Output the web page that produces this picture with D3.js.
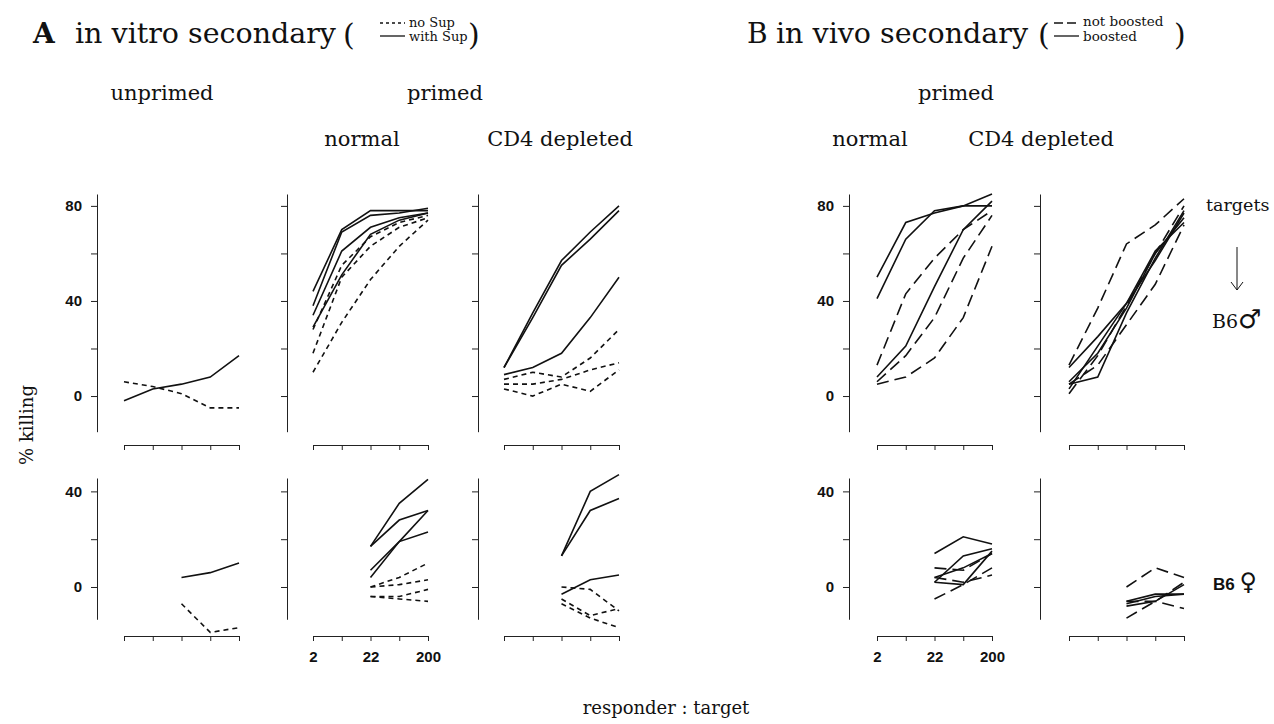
<!DOCTYPE html>
<html>
<head>
<meta charset="utf-8">
<script src="https://cdn.jsdelivr.net/npm/d3@7"></script>
<style>
  body { margin: 0; background: #fff; }
  .serif { font-family: "DejaVu Serif", serif; fill: #111; }
  .axis path, .axis line { stroke: #222; stroke-width: 1; }
  .axis text { font-family: "Liberation Sans", Arial, sans-serif; font-weight: bold; font-size: 15px; fill: #111; }
</style>
</head>
<body>
<script>
// responder : target ratios (x categories) and tick labels
var ratios = ["2", "7", "22", "67", "200"];
var labelledRatios = ["2", "22", "200"];
var ticksTop = [0, 20, 40, 60, 80];
var ticksBottom = [0, 20, 40];
var labelledTicks = [0, 40, 80];

// A in vitro secondary, B6 male targets (% killing)
var vitroUnprimedMaleSup = [[-2, 3, 5, 8, 17]];
var vitroUnprimedMaleNoSup = [[6, 4, 1, -5, -5]];
var vitroNormalMaleSup = [
  [44, 70, 78, 78, 78],
  [38, 69, 76, 77, 79],
  [34, 61, 71, 75, 77],
  [29, 51, 68, 74, 77]
];
var vitroNormalMaleNoSup = [
  [28, 55, 67, 73, 76],
  [18, 50, 63, 71, 75],
  [10, 31, 49, 63, 74]
];
var vitroCD4MaleSup = [
  [12, 35, 57, 69, 80],
  [12, 33, 55, 66, 78],
  [9, 12, 18, 33, 50]
];
var vitroCD4MaleNoSup = [
  [7, 10, 8, 16, 28],
  [5, 5, 7, 11, 14],
  [3, 0, 5, 2, 11]
];

// A in vitro secondary, B6 female targets
var vitroUnprimedFemaleSup = [[null, null, 4, 6, 10]];
var vitroUnprimedFemaleNoSup = [[null, null, -7, -19, -17]];
var vitroNormalFemaleSup = [
  [null, null, 17, 35, 45],
  [null, null, 17, 28, 32],
  [null, null, 7, 19, 32],
  [null, null, 4, 19, 23]
];
var vitroNormalFemaleNoSup = [
  [null, null, 0, 4, 10],
  [null, null, 0, 1, 3],
  [null, null, -4, -4, -1],
  [null, null, -4, -5, -6]
];
var vitroCD4FemaleSup = [
  [null, null, 13, 40, 47],
  [null, null, 13, 32, 37],
  [null, null, -3, 3, 5]
];
var vitroCD4FemaleNoSup = [
  [null, null, 0, -1, -10],
  [null, null, -5, -12, -9],
  [null, null, -7, -13, -17]
];

// B in vivo secondary, B6 male targets
var vivoNormalMaleBoost = [
  [50, 73, 77, 80, 85],
  [41, 66, 78, 80, 80],
  [8, 21, 46, 70, 82]
];
var vivoNormalMaleNoBoost = [
  [13, 43, 58, 70, 78],
  [6, 17, 33, 58, 76],
  [5, 8, 16, 33, 63]
];
var vivoCD4MaleBoost = [
  [5, 8, 35, 58, 78],
  [6, 18, 37, 60, 75],
  [3, 21, 39, 61, 73],
  [12, 25, 39, 57, 77]
];
var vivoCD4MaleNoBoost = [
  [13, 37, 64, 72, 83],
  [5, 13, 30, 47, 72],
  [1, 17, 38, 60, 80]
];

// B in vivo secondary, B6 female targets
var vivoNormalFemaleBoost = [
  [null, null, 14, 21, 18],
  [null, null, 2, 13, 16],
  [null, null, 2, 1, 15],
  [null, null, 4, 8, 14]
];
var vivoNormalFemaleNoBoost = [
  [null, null, 8, 7, 14],
  [null, null, -5, 1, 8],
  [null, null, 4, 2, 5]
];
var vivoCD4FemaleBoost = [
  [null, null, -6, -3, -3],
  [null, null, -7, -4, -3],
  [null, null, -8, -6, 1]
];
var vivoCD4FemaleNoBoost = [
  [null, null, 0, 8, 4],
  [null, null, -13, -6, 2],
  [null, null, -6, -6, -9]
];

// layout
var width = 1274, height = 724;
var colAxisX = [97, 287, 478, 849, 1040];
var colStart = [124, 313, 504, 877, 1069];
var colWidth = 115;
var rows = [
  {top: 194, bottom: 445, domain: [-20.6, 85], axisLow: -15, ticks: ticksTop},
  {top: 478, bottom: 636, domain: [-20.5, 45.6], axisLow: -13.5, ticks: ticksBottom}
];
var shortDash = "5,4", longDash = "12,6";

var panels = [
  {col: 0, row: 0, solid: vitroUnprimedMaleSup, dashed: vitroUnprimedMaleNoSup, dash: shortDash},
  {col: 1, row: 0, solid: vitroNormalMaleSup, dashed: vitroNormalMaleNoSup, dash: shortDash},
  {col: 2, row: 0, solid: vitroCD4MaleSup, dashed: vitroCD4MaleNoSup, dash: shortDash},
  {col: 3, row: 0, solid: vivoNormalMaleBoost, dashed: vivoNormalMaleNoBoost, dash: longDash},
  {col: 4, row: 0, solid: vivoCD4MaleBoost, dashed: vivoCD4MaleNoBoost, dash: longDash},
  {col: 0, row: 1, solid: vitroUnprimedFemaleSup, dashed: vitroUnprimedFemaleNoSup, dash: shortDash},
  {col: 1, row: 1, solid: vitroNormalFemaleSup, dashed: vitroNormalFemaleNoSup, dash: shortDash},
  {col: 2, row: 1, solid: vitroCD4FemaleSup, dashed: vitroCD4FemaleNoSup, dash: shortDash},
  {col: 3, row: 1, solid: vivoNormalFemaleBoost, dashed: vivoNormalFemaleNoBoost, dash: longDash},
  {col: 4, row: 1, solid: vivoCD4FemaleBoost, dashed: vivoCD4FemaleNoBoost, dash: longDash}
];

var svg = d3.select("body").append("svg")
  .attr("width", width)
  .attr("height", height);

panels.forEach(function(p) {
  var r = rows[p.row];
  var x = d3.scalePoint().domain(ratios).range([colStart[p.col], colStart[p.col] + colWidth]);
  var y = d3.scaleLinear().domain(r.domain).range([r.bottom, r.top]);
  var yLine = y.copy().domain([r.axisLow, r.domain[1]]).range([y(r.axisLow), r.top]);

  var showY = p.col == 0 || p.col == 3;
  var showX = p.row == 1 && (p.col == 1 || p.col == 3);

  svg.append("g")
    .attr("class", "axis")
    .attr("transform", "translate(" + colAxisX[p.col] + ",0)")
    .call(d3.axisLeft(yLine)
      .tickValues(r.ticks)
      .tickSize(6)
      .tickSizeOuter(0)
      .tickPadding(9)
      .tickFormat(function(d) { return showY && labelledTicks.indexOf(d) >= 0 ? d : ""; }));

  svg.append("g")
    .attr("class", "axis")
    .attr("transform", "translate(0," + r.bottom + ")")
    .call(d3.axisBottom(x)
      .tickSize(5)
      .tickSizeOuter(5)
      .tickPadding(10)
      .tickFormat(function(d) { return showX && labelledRatios.indexOf(d) >= 0 ? d : ""; }));

  var line = d3.line()
    .defined(function(d) { return d != null; })
    .x(function(d, i) { return x(ratios[i]); })
    .y(function(d) { return y(d); });

  svg.append("g").selectAll("path")
    .data(p.dashed)
    .enter().append("path")
    .attr("d", line)
    .attr("fill", "none")
    .attr("stroke", "#111")
    .attr("stroke-width", 1.6)
    .attr("stroke-dasharray", p.dash);

  svg.append("g").selectAll("path")
    .data(p.solid)
    .enter().append("path")
    .attr("d", line)
    .attr("fill", "none")
    .attr("stroke", "#111")
    .attr("stroke-width", 1.6);
});

// titles
function text(x, y, str, size, anchor) {
  return svg.append("text")
    .attr("class", "serif")
    .attr("x", x).attr("y", y)
    .attr("font-size", size)
    .attr("text-anchor", anchor || "start")
    .text(str);
}

function legendPair(x, dash) {
  svg.append("line").attr("x1", x).attr("x2", x + 25).attr("y1", 23).attr("y2", 23)
    .attr("stroke", "#111").attr("stroke-width", 1.3).attr("stroke-dasharray", dash);
  svg.append("line").attr("x1", x).attr("x2", x + 25).attr("y1", 36).attr("y2", 36)
    .attr("stroke", "#111").attr("stroke-width", 1.3);
}

text(33, 43, "A", 28).attr("font-weight", "bold");
text(75, 43, "in vitro secondary", 28.5);
text(343, 45, "(", 30);
legendPair(380, "3,3");
text(409, 27, "no Sup", 13);
text(409, 41, "with Sup", 13);
text(468, 45, ")", 30);

text(747, 43, "B", 28);
text(776, 43, "in vivo secondary", 28.5);
text(1038, 45, "(", 30);
legendPair(1054, "9,4");
text(1083, 26, "not boosted", 13.5);
text(1083, 41, "boosted", 13.5);
text(1174, 45, ")", 30);

// group headings
text(162, 100, "unprimed", 21, "middle");
text(445, 100, "primed", 21, "middle");
text(362, 146, "normal", 21, "middle");
text(560, 146, "CD4 depleted", 21, "middle");
text(956, 100, "primed", 21, "middle");
text(870, 146, "normal", 21, "middle");
text(1041, 146, "CD4 depleted", 21, "middle");

// axis titles
text(0, 0, "% killing", 18, "middle").attr("transform", "translate(33,425) rotate(-90)");
text(666, 714, "responder : target", 18, "middle");

// targets annotation
text(1206, 211, "targets", 17.5);
svg.append("path").attr("d", "M1237,247V290M1231,282L1237,290L1243,282")
  .attr("fill", "none").attr("stroke", "#111").attr("stroke-width", 1);
var male = text(1212, 328, "B6", 19);
male.append("tspan").attr("font-family", "DejaVu Sans").attr("font-size", 26).text("♂");
svg.append("text")
  .attr("x", 1213).attr("y", 590)
  .attr("font-family", "Liberation Sans, Arial, sans-serif")
  .attr("font-weight", "bold")
  .attr("font-size", 17)
  .attr("fill", "#111")
  .text("B6 ")
  .append("tspan").attr("font-family", "DejaVu Sans").attr("font-weight", "normal").attr("font-size", 24).text("♀");
</script>
</body>
</html>
